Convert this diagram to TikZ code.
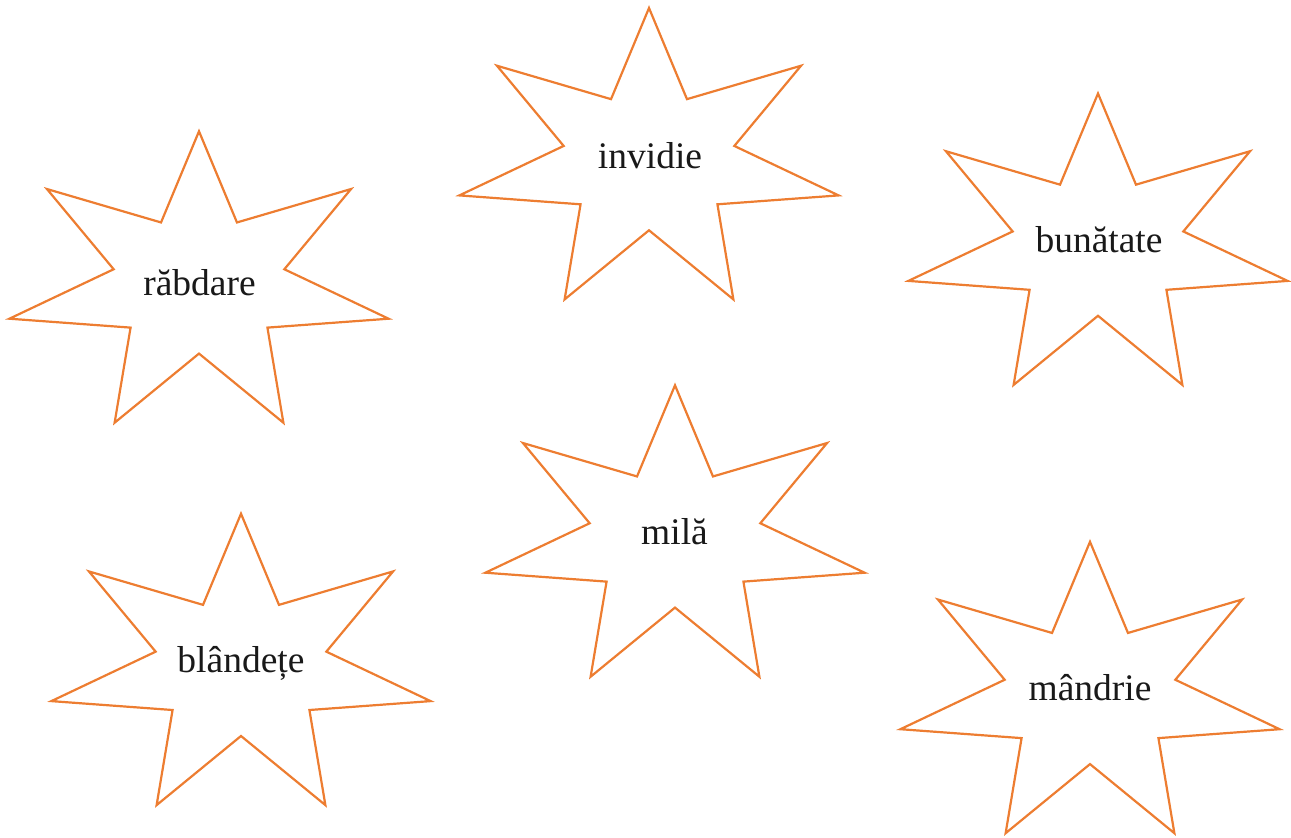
\documentclass[tikz,border=0pt]{standalone}
\usepackage{fontspec}
\setmainfont{Liberation Serif}
\definecolor{starorange}{HTML}{ED7D31}
\tikzset{
  starline/.style={draw=starorange, line width=2.2pt, line join=miter},
  word/.style={anchor=base, inner sep=0pt, font=\fontsize{37.5}{44}\selectfont, text=black!90}
}
\newcommand\sevenstar[2]{%
  \draw[starline] plot[variable=\k, samples at={0,...,13}]
    ({#1+194.5*(1-0.55*mod(\k,2))*cos(90+\k*360/14)},
     {#2-153.3*(1-0.55*mod(\k,2))*sin(90+\k*360/14)}) -- cycle;}
\begin{document}
\begin{tikzpicture}[x=1pt,y=-1pt]
\useasboundingbox (0,0) rectangle (1291,838);
\sevenstar{199}{284.6}
\sevenstar{649}{161.3}
\sevenstar{1098}{246.8}
\sevenstar{675}{538.6}
\sevenstar{241}{667}
\sevenstar{1090}{695.1}
\node[word] (rabdare) at (199.5,295) {răbdare};
\node[word] (invidie) at (650,168) {invidie};
\node[word] (bunatate) at (1099,252) {bunătate};
\node[word] (mila) at (674.5,544) {milă};
\node[word] (blandete) at (241,672) {blândețe};
\node[word] (mandrie) at (1090,700) {mândrie};
\end{tikzpicture}
\end{document}
